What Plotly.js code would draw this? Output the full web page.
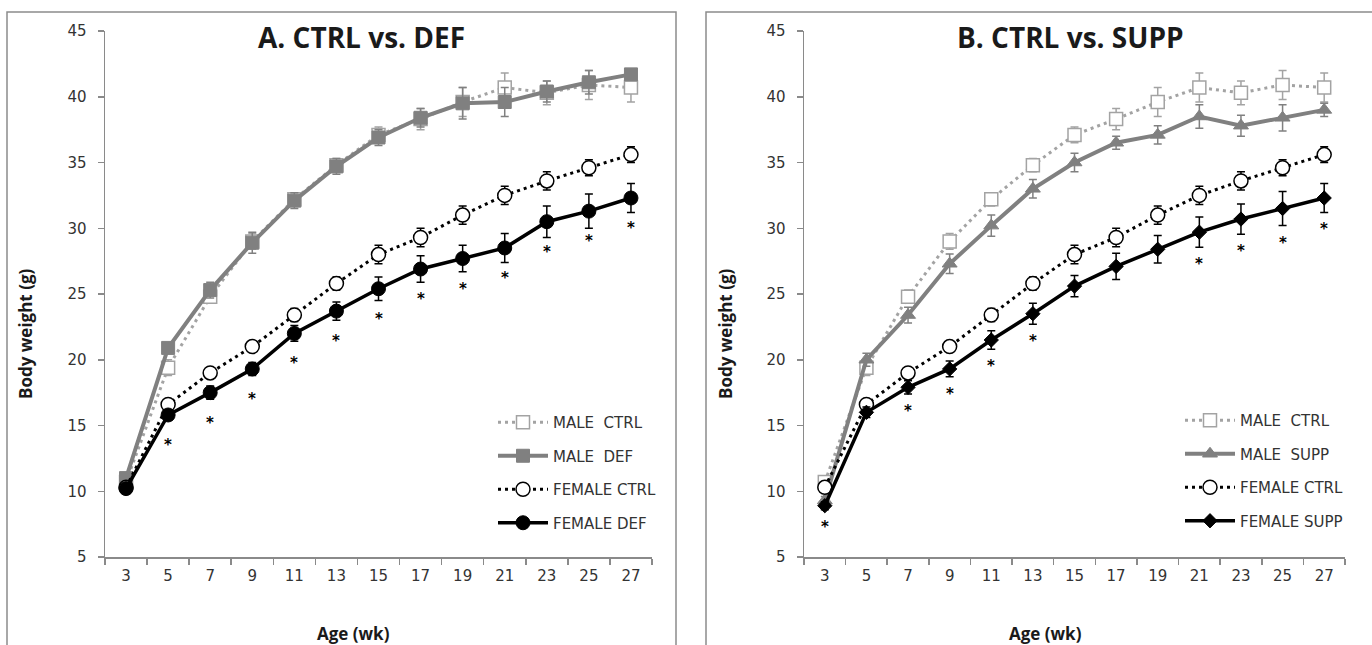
<!DOCTYPE html>
<html>
<head>
<meta charset="utf-8">
<script src="https://cdn.plot.ly/plotly-3.0.1.min.js"></script>
<style>html,body{margin:0;padding:0;background:#fff;}#chart{width:1372px;height:645px;}</style>
</head>
<body>
<div id="chart"></div>
<script>
// ---- data ----
const weeks = ["3","5","7","9","11","13","15","17","19","21","23","25","27"];

const maleCtrl      = [10.7, 19.4, 24.8, 29.0, 32.2, 34.8, 37.1, 38.3, 39.6, 40.7, 40.3, 40.9, 40.7];
const maleCtrlErr   = [0.3, 0.6, 0.5, 0.6, 0.5, 0.5, 0.6, 0.8, 1.1, 1.1, 0.9, 1.1, 1.1];
const maleDef       = [11.0, 20.9, 25.3, 28.9, 32.1, 34.7, 36.9, 38.4, 39.5, 39.6, 40.4, 41.1, 41.7];
const maleDefErr    = [0.3, 0.4, 0.6, 0.8, 0.6, 0.6, 0.6, 0.7, 1.2, 1.1, 0.8, 0.9, 0.4];
const femaleCtrl    = [10.3, 16.6, 19.0, 21.0, 23.4, 25.8, 28.0, 29.3, 31.0, 32.5, 33.6, 34.6, 35.6];
const femaleCtrlErr = [0.2, 0.3, 0.3, 0.3, 0.5, 0.5, 0.7, 0.7, 0.7, 0.7, 0.7, 0.6, 0.6];
const femaleDef     = [10.2, 15.8, 17.5, 19.3, 22.0, 23.7, 25.4, 26.9, 27.7, 28.5, 30.5, 31.3, 32.3];
const femaleDefErr  = [0.2, 0.4, 0.5, 0.5, 0.6, 0.7, 0.9, 1.0, 1.0, 1.1, 1.2, 1.3, 1.1];
const maleSupp      = [9.3, 20.0, 23.4, 27.3, 30.2, 33.0, 35.0, 36.5, 37.1, 38.5, 37.8, 38.4, 39.0];
const maleSuppErr   = [0.3, 0.5, 0.6, 0.75, 0.8, 0.7, 0.7, 0.5, 0.7, 0.9, 0.8, 1.0, 0.5];
const femaleSupp    = [8.9, 16.0, 17.9, 19.3, 21.5, 23.5, 25.6, 27.1, 28.4, 29.7, 30.7, 31.5, 32.3];
const femaleSuppErr = [0.3, 0.4, 0.5, 0.6, 0.7, 0.8, 0.8, 1.0, 1.05, 1.15, 1.15, 1.3, 1.1];

// significance flags (asterisks under female treated series)
const sigDef  = [0,1,1,1,1,1,1,1,1,1,1,1,1];
const sigSupp = [1,0,1,1,1,1,0,0,0,1,1,1,1];

const yTicks = [5,10,15,20,25,30,35,40,45];
const titleA = "A. CTRL vs. DEF";
const titleB = "B. CTRL vs. SUPP";

// ---- styles ----
const W = 1372, H = 645;
const px = v => v / W;
const py = v => 1 - v / H;
const GRAY_L = "#a3a3a3", GRAY_D = "#808080", BLACK = "#000000", AXIS = "#8a8a8a";

function err(arr, color) {
  return {type: "data", array: arr, visible: true, color: color, thickness: 1.5, width: 4};
}

function series(name, y, e, opts, xa, ya, legend) {
  return Object.assign({
    type: "scatter", mode: "lines+markers", name: name,
    x: weeks, y: y, error_y: err(e, opts.ecolor),
    xaxis: xa, yaxis: ya, legend: legend, legendgroup: legend + name,
    hoverinfo: "skip"
  }, opts.trace);
}

const sMaleCtrl = {ecolor: GRAY_L, trace: {
  line: {color: GRAY_L, width: 3, dash: "3px,4px"},
  marker: {symbol: "square", size: 13, color: "#ffffff", line: {color: GRAY_L, width: 1.5}}}};
const sMaleDef = {ecolor: GRAY_D, trace: {
  line: {color: GRAY_D, width: 4},
  marker: {symbol: "square", size: 13, color: GRAY_D, line: {color: GRAY_D, width: 1}}}};
const sMaleSupp = {ecolor: GRAY_D, trace: {
  line: {color: GRAY_D, width: 4},
  marker: {symbol: "triangle-up", size: 13, color: GRAY_D, line: {color: GRAY_D, width: 1}}}};
const sFemCtrl = {ecolor: BLACK, trace: {
  line: {color: BLACK, width: 3, dash: "3px,4px"},
  marker: {symbol: "circle", size: 14, color: "#ffffff", line: {color: BLACK, width: 1.5}}}};
const sFemDef = {ecolor: BLACK, trace: {
  line: {color: BLACK, width: 3.5},
  marker: {symbol: "circle", size: 14, color: BLACK, line: {color: BLACK, width: 1}}}};
const sFemSupp = {ecolor: BLACK, trace: {
  line: {color: BLACK, width: 3.5},
  marker: {symbol: "diamond", size: 11, color: BLACK, line: {color: BLACK, width: 1}}}};

const data = [
  series("MALE  CTRL", maleCtrl, maleCtrlErr, sMaleCtrl, "x", "y", "legend"),
  series("MALE  DEF", maleDef, maleDefErr, sMaleDef, "x", "y", "legend"),
  series("FEMALE CTRL", femaleCtrl, femaleCtrlErr, sFemCtrl, "x", "y", "legend"),
  series("FEMALE DEF", femaleDef, femaleDefErr, sFemDef, "x", "y", "legend"),
  series("MALE  CTRL", maleCtrl, maleCtrlErr, sMaleCtrl, "x2", "y2", "legend2"),
  series("MALE  SUPP", maleSupp, maleSuppErr, sMaleSupp, "x2", "y2", "legend2"),
  series("FEMALE CTRL", femaleCtrl, femaleCtrlErr, sFemCtrl, "x2", "y2", "legend2"),
  series("FEMALE SUPP", femaleSupp, femaleSuppErr, sFemSupp, "x2", "y2", "legend2")
];

const tickFont = {family: "DejaVu Sans, Verdana, sans-serif", size: 15, color: "#333333"};
const titleFont = {family: "Open Sans, sans-serif", size: 28, color: "#1a1a1a", weight: "bold"};
const axTitleFont = {family: "Open Sans, sans-serif", size: 17, color: "#1a1a1a", weight: "bold"};

function xAxis(d, anchor) {
  return {type: "category", domain: d, anchor: anchor, range: [-0.5, 12.5],
    showline: true, linecolor: AXIS, linewidth: 1.5, showgrid: false, zeroline: false,
    ticks: "outside", tickson: "boundaries", ticklen: 6, tickcolor: AXIS, tickwidth: 1.5,
    tickfont: tickFont, ticklabelstandoff: 4, fixedrange: true};
}
function yAxis(anchor) {
  return {domain: [88 / H, 614 / H], anchor: anchor, range: [5, 45],
    tickvals: yTicks, ticktext: yTicks.map(String),
    showline: true, linecolor: AXIS, linewidth: 1.5, showgrid: false, zeroline: false,
    ticks: "outside", ticklen: 6, tickcolor: AXIS, tickwidth: 1.5,
    tickfont: tickFont, ticklabelstandoff: 8, fixedrange: true};
}

const annotations = [
  {text: titleA, xref: "paper", yref: "paper", x: px(361), y: py(37), showarrow: false, font: titleFont, xanchor: "center", yanchor: "middle"},
  {text: titleB, xref: "paper", yref: "paper", x: px(1070), y: py(37), showarrow: false, font: titleFont, xanchor: "center", yanchor: "middle"},
  {text: "Body weight (g)", xref: "paper", yref: "paper", x: px(25), y: py(334), textangle: -90, showarrow: false, font: axTitleFont, xanchor: "center", yanchor: "middle"},
  {text: "Body weight (g)", xref: "paper", yref: "paper", x: px(725), y: py(334), textangle: -90, showarrow: false, font: axTitleFont, xanchor: "center", yanchor: "middle"},
  {text: "Age (wk)", xref: "paper", yref: "paper", x: px(353), y: py(633), showarrow: false, font: axTitleFont, xanchor: "center", yanchor: "middle"},
  {text: "Age (wk)", xref: "paper", yref: "paper", x: px(1045), y: py(633), showarrow: false, font: axTitleFont, xanchor: "center", yanchor: "middle"}
];
const starFont = {family: "DejaVu Sans, sans-serif", size: 15, color: "#000000", weight: "bold"};
weeks.forEach((w, i) => {
  // category axes take the category index for annotation positions
  if (sigDef[i]) annotations.push({text: "*", xref: "x", yref: "y", x: i, y: femaleDef[i],
    yshift: -30, showarrow: false, font: starFont, xanchor: "center", yanchor: "middle"});
  if (sigSupp[i]) annotations.push({text: "*", xref: "x2", yref: "y2", x: i, y: femaleSupp[i] - femaleSuppErr[i],
    yshift: -17, showarrow: false, font: starFont, xanchor: "center", yanchor: "middle"});
});

const legendBase = {font: {family: "DejaVu Sans, Verdana, sans-serif", size: 15, color: "#333333"},
  bgcolor: "rgba(0,0,0,0)", borderwidth: 0, itemwidth: 50, tracegroupgap: 11,
  xanchor: "left", yanchor: "top", itemclick: false, itemdoubleclick: false};

const shapes = [
  {type: "rect", xref: "paper", yref: "paper", x0: px(7), x1: px(676), y0: py(700), y1: py(12),
   line: {color: "#8c8c8c", width: 1.5}, fillcolor: "rgba(0,0,0,0)", layer: "below"},
  {type: "rect", xref: "paper", yref: "paper", x0: px(706), x1: px(1400), y0: py(700), y1: py(12),
   line: {color: "#8c8c8c", width: 1.5}, fillcolor: "rgba(0,0,0,0)", layer: "below"}
];

const layout = {
  width: W, height: H, margin: {l: 0, r: 0, t: 0, b: 0},
  paper_bgcolor: "#ffffff", plot_bgcolor: "rgba(0,0,0,0)",
  showlegend: true,
  xaxis: xAxis([105 / W, 652 / W], "y"),
  yaxis: yAxis("x"),
  xaxis2: xAxis([804 / W, 1345 / W], "y2"),
  yaxis2: yAxis("x2"),
  legend: Object.assign({}, legendBase, {x: px(493), y: py(406)}),
  legend2: Object.assign({}, legendBase, {x: px(1180), y: py(404)}),
  annotations: annotations,
  shapes: shapes
};

Plotly.newPlot("chart", data, layout, {displayModeBar: false, staticPlot: true});
</script>
</body>
</html>
